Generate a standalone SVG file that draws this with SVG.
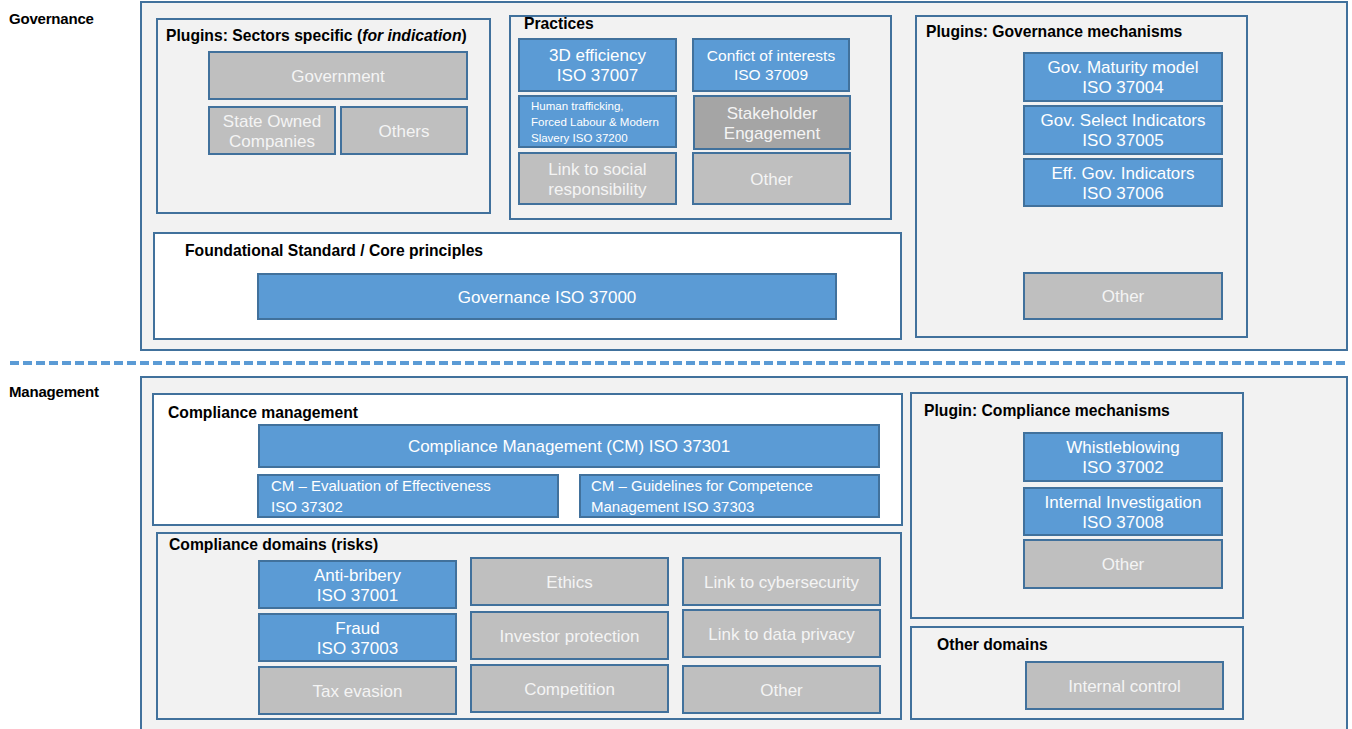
<svg xmlns="http://www.w3.org/2000/svg" width="1352" height="729" viewBox="0 0 1352 729">
<style>
.bg{fill:#ffffff}
.panel{fill:#f2f2f2;stroke:#41719c;stroke-width:2}
.panelw{fill:#ffffff;stroke:#41719c;stroke-width:2}
.blue{fill:#5b9bd5;stroke:#41719c;stroke-width:2}
.grey{fill:#bfbfbf;stroke:#41719c;stroke-width:2}
.dgrey{fill:#a5a5a5;stroke:#41719c;stroke-width:2}
.t{font-family:"Liberation Sans",Arial,sans-serif;font-size:17px;fill:#ffffff;text-anchor:middle}
.ts{font-family:"Liberation Sans",Arial,sans-serif;font-size:15.5px;fill:#ffffff;text-anchor:middle}
.tg{font-family:"Liberation Sans",Arial,sans-serif;font-size:17px;fill:#f4f4f4;text-anchor:middle}
.c{font-family:"Liberation Sans",Arial,sans-serif;font-size:15px;fill:#ffffff}
.cs{font-family:"Liberation Sans",Arial,sans-serif;font-size:11.5px;fill:#ffffff}
.h{font-family:"Liberation Sans",Arial,sans-serif;font-size:15.7px;font-weight:bold;fill:#000000}
.sec{font-family:"Liberation Sans",Arial,sans-serif;font-size:15px;font-weight:bold;fill:#000000;letter-spacing:-0.2px}
.sep{stroke:#5b9bd5;stroke-width:4;stroke-dasharray:9 4;fill:none}
</style>
<rect class="bg" x="0" y="0" width="1352" height="729"/>

<g id="governance-layer">
  <text class="sec" x="9" y="24">Governance</text>
  <rect class="panel" x="141" y="2" width="1206" height="348"/>
</g>

<g id="sectors-specific">
  <rect class="panel" x="157" y="19" width="333" height="194"/>
  <text class="h" x="166" y="41">Plugins: Sectors specific (<tspan font-style="italic">for indication</tspan>)</text>
  <g id="government"><rect class="grey" x="209" y="52" width="258" height="47"/><text class="tg" x="338" y="81.5">Government</text></g>
  <g id="state-owned"><rect class="grey" x="209" y="107" width="126" height="47"/><text class="tg" x="272" y="126.5">State Owned</text><text class="tg" x="272" y="146.5">Companies</text></g>
  <g id="others-sector"><rect class="grey" x="341" y="107" width="126" height="47"/><text class="tg" x="404" y="136.5">Others</text></g>
</g>

<g id="practices">
  <rect class="panel" x="510" y="16" width="381" height="203"/>
  <text class="h" x="524" y="29">Practices</text>
  <g id="efficiency-3d"><rect class="blue" x="519" y="39" width="157" height="52"/><text class="t" x="597.5" y="61">3D efficiency</text><text class="t" x="597.5" y="81">ISO 37007</text></g>
  <g id="conflict-interests"><rect class="blue" x="693" y="39" width="156" height="52"/><text class="ts" x="771" y="61">Confict of interests</text><text class="ts" x="771" y="80">ISO 37009</text></g>
  <g id="human-trafficking"><rect class="blue" x="519" y="96" width="157" height="51"/><text class="cs" x="531" y="110">Human trafficking,</text><text class="cs" x="531" y="126">Forced Labour &amp; Modern</text><text class="cs" x="531" y="142">Slavery ISO 37200</text></g>
  <g id="stakeholder"><rect class="dgrey" x="694" y="96" width="156" height="53"/><text class="tg" x="772" y="119">Stakeholder</text><text class="tg" x="772" y="139">Engagement</text></g>
  <g id="social-responsibility"><rect class="grey" x="519" y="153" width="157" height="51"/><text class="tg" x="597.5" y="174.5">Link to social</text><text class="tg" x="597.5" y="194.5">responsibility</text></g>
  <g id="other-practices"><rect class="grey" x="693" y="153" width="157" height="51"/><text class="tg" x="771.5" y="184.5">Other</text></g>
</g>

<g id="governance-mechanisms">
  <rect class="panel" x="916" y="16" width="331" height="321"/>
  <text class="h" x="926" y="37">Plugins: Governance mechanisms</text>
  <g id="gov-maturity"><rect class="blue" x="1024" y="53" width="198" height="48"/><text class="t" x="1123" y="73">Gov. Maturity model</text><text class="t" x="1123" y="93">ISO 37004</text></g>
  <g id="gov-select"><rect class="blue" x="1024" y="106" width="198" height="48"/><text class="t" x="1123" y="126">Gov. Select Indicators</text><text class="t" x="1123" y="146">ISO 37005</text></g>
  <g id="eff-gov"><rect class="blue" x="1024" y="159" width="198" height="47"/><text class="t" x="1123" y="178.5">Eff. Gov. Indicators</text><text class="t" x="1123" y="198.5">ISO 37006</text></g>
  <g id="other-gov"><rect class="grey" x="1024" y="273" width="198" height="46"/><text class="tg" x="1123" y="302">Other</text></g>
</g>

<g id="foundational">
  <rect class="panelw" x="154" y="233" width="747" height="106"/>
  <text class="h" x="185" y="256">Foundational Standard / Core principles</text>
  <g id="governance-37000"><rect class="blue" x="258" y="274" width="578" height="45"/><text class="t" x="547" y="302.5">Governance ISO 37000</text></g>
</g>

<g id="separator">
  <line class="sep" x1="10" y1="363" x2="1347" y2="363"/>
</g>

<g id="management-layer">
  <text class="sec" x="9" y="397">Management</text>
  <rect class="panel" x="141" y="377" width="1206" height="355"/>
</g>

<g id="compliance-management">
  <rect class="panelw" x="153" y="394" width="749" height="131"/>
  <text class="h" x="168" y="418">Compliance management</text>
  <g id="cm-37301"><rect class="blue" x="259" y="425" width="620" height="42"/><text class="t" x="569" y="452">Compliance Management (CM) ISO 37301</text></g>
  <g id="cm-37302"><rect class="blue" x="258" y="475" width="300" height="42"/><text class="c" x="271" y="491">CM – Evaluation of Effectiveness</text><text class="c" x="271" y="512">ISO 37302</text></g>
  <g id="cm-37303"><rect class="blue" x="580" y="475" width="299" height="42"/><text class="c" x="591" y="491">CM – Guidelines for Competence</text><text class="c" x="591" y="512">Management ISO 37303</text></g>
</g>

<g id="compliance-domains">
  <rect class="panel" x="157" y="533" width="744" height="186"/>
  <text class="h" x="169" y="550">Compliance domains (risks)</text>
  <g id="anti-bribery"><rect class="blue" x="259" y="561" width="197" height="47"/><text class="t" x="357.5" y="580.5">Anti-bribery</text><text class="t" x="357.5" y="600.5">ISO 37001</text></g>
  <g id="fraud"><rect class="blue" x="259" y="614" width="197" height="47"/><text class="t" x="357.5" y="633.5">Fraud</text><text class="t" x="357.5" y="653.5">ISO 37003</text></g>
  <g id="tax-evasion"><rect class="grey" x="259" y="667" width="197" height="47"/><text class="tg" x="357.5" y="696.5">Tax evasion</text></g>
  <g id="ethics"><rect class="grey" x="471" y="558" width="197" height="47"/><text class="tg" x="569.5" y="587.5">Ethics</text></g>
  <g id="investor-protection"><rect class="grey" x="471" y="612" width="197" height="47"/><text class="tg" x="569.5" y="641.5">Investor protection</text></g>
  <g id="competition"><rect class="grey" x="471" y="665" width="197" height="47"/><text class="tg" x="569.5" y="694.5">Competition</text></g>
  <g id="cybersecurity"><rect class="grey" x="683" y="558" width="197" height="47"/><text class="tg" x="781.5" y="587.5">Link to cybersecurity</text></g>
  <g id="data-privacy"><rect class="grey" x="683" y="610" width="197" height="47"/><text class="tg" x="781.5" y="639.5">Link to data privacy</text></g>
  <g id="other-domains-risk"><rect class="grey" x="683" y="666" width="197" height="47"/><text class="tg" x="781.5" y="695.5">Other</text></g>
</g>

<g id="compliance-mechanisms">
  <rect class="panel" x="911" y="393" width="332" height="225"/>
  <text class="h" x="924" y="416">Plugin: Compliance mechanisms</text>
  <g id="whistleblowing"><rect class="blue" x="1024" y="433" width="198" height="48"/><text class="t" x="1123" y="453">Whistleblowing</text><text class="t" x="1123" y="473">ISO 37002</text></g>
  <g id="internal-investigation"><rect class="blue" x="1024" y="488" width="198" height="47"/><text class="t" x="1123" y="507.5">Internal Investigation</text><text class="t" x="1123" y="527.5">ISO 37008</text></g>
  <g id="other-mech"><rect class="grey" x="1024" y="540" width="198" height="48"/><text class="tg" x="1123" y="570">Other</text></g>
</g>

<g id="other-domains">
  <rect class="panel" x="911" y="627" width="332" height="92"/>
  <text class="h" x="937" y="650">Other domains</text>
  <g id="internal-control"><rect class="grey" x="1026" y="662" width="197" height="47"/><text class="tg" x="1124.5" y="691.5">Internal control</text></g>
</g>
</svg>
